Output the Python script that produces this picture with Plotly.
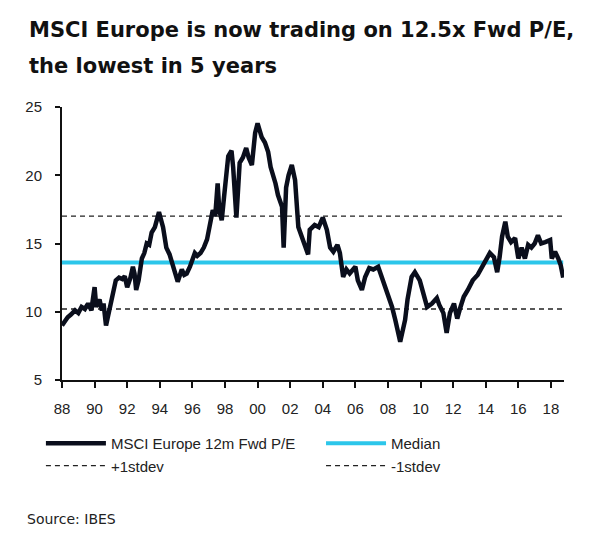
import plotly.graph_objects as go

# ---- data ----
years = [1988.00, 1988.15, 1988.35, 1988.55, 1988.8, 1989.0, 1989.2, 1989.4, 1989.6, 1989.8,
         1990.0, 1990.1, 1990.3, 1990.45, 1990.55, 1990.7, 1990.85, 1991.1, 1991.3, 1991.5,
         1991.7, 1991.85, 1992.0, 1992.2, 1992.35, 1992.45, 1992.55, 1992.7, 1992.9, 1993.05,
         1993.2, 1993.35, 1993.5, 1993.7, 1993.95, 1994.2, 1994.4, 1994.6, 1994.9, 1995.1,
         1995.35, 1995.5, 1995.65, 1995.85, 1996.15, 1996.3, 1996.5, 1996.7, 1996.9, 1997.1,
         1997.25, 1997.4, 1997.55, 1997.65, 1997.8, 1997.95, 1998.05, 1998.2, 1998.4, 1998.5,
         1998.7, 1998.9, 1999.1, 1999.3, 1999.45, 1999.65, 1999.85, 2000.0, 2000.25, 2000.45,
         2000.65, 2000.8, 2001.1, 2001.25, 2001.5, 2001.6, 2001.75, 2001.9, 2002.1, 2002.3,
         2002.5, 2002.7, 2002.85, 2003.1, 2003.2, 2003.5, 2003.75, 2004.0, 2004.25, 2004.45,
         2004.65, 2004.9, 2005.05, 2005.25, 2005.45, 2005.65, 2006.0, 2006.15, 2006.4, 2006.6,
         2006.85, 2007.1, 2007.4, 2007.7, 2007.95, 2008.25, 2008.45, 2008.75, 2009.05, 2009.2,
         2009.45, 2009.65, 2009.95, 2010.15, 2010.4, 2010.7, 2011.0, 2011.15, 2011.4, 2011.6,
         2011.8, 2012.05, 2012.25, 2012.45, 2012.65, 2012.9, 2013.2, 2013.5, 2013.85, 2014.05,
         2014.25, 2014.5, 2014.7, 2014.85, 2015.0, 2015.2, 2015.35, 2015.55, 2015.8, 2016.0,
         2016.2, 2016.4, 2016.6, 2016.8, 2017.0, 2017.2, 2017.4, 2017.65, 2017.95, 2018.05,
         2018.25, 2018.45, 2018.6, 2018.75]
pe = [9.0, 9.3, 9.6, 9.8, 10.1, 9.9, 10.35, 10.2, 10.6, 10.1,
      11.8, 10.35, 10.9, 10.1, 10.6, 9.0, 9.9, 11.4, 12.3, 12.5,
      12.4, 12.6, 11.8, 12.5, 13.3, 12.8, 11.6, 12.3, 13.9, 14.3,
      15.0, 14.9, 15.8, 16.2, 17.3, 16.2, 14.7, 14.2, 13.1, 12.2,
      13.1, 12.7, 12.8, 13.3, 14.3, 14.1, 14.3, 14.7, 15.3, 16.5,
      17.45, 17.0, 19.4, 17.45, 16.7, 18.5, 20.0, 21.4, 21.8, 20.6,
      16.9, 20.9, 21.3, 22.0, 21.3, 20.75, 23.1, 23.8, 22.8, 22.4,
      21.7, 20.6, 19.4, 18.55, 17.7, 14.7, 19.1, 20.0, 20.75, 19.65,
      16.2, 15.5, 15.0, 14.2, 16.0, 16.35, 16.2, 16.9, 16.0, 14.7,
      14.4, 14.9, 14.3, 12.55, 13.1, 12.8, 13.3, 12.3, 11.6, 12.55,
      13.2, 13.1, 13.3, 12.3, 11.4, 10.35, 9.4, 7.8, 9.4, 10.9,
      12.55, 12.9, 12.3, 11.4, 10.35, 10.6, 11.0, 10.5, 9.9, 8.45,
      9.9, 10.6, 9.5, 10.35, 11.1, 11.6, 12.3, 12.7, 13.4, 13.9,
      14.3, 14.0, 12.9, 14.0, 15.5, 16.6, 15.5, 15.1, 15.4, 13.9,
      14.7, 13.9, 14.9, 14.7, 15.0, 15.6, 15.0, 15.1, 15.25, 13.9,
      14.4, 13.9, 13.4, 12.5]
median_pe = 13.6
plus_1sd = 17.0
minus_1sd = 10.2

tick_years = list(range(1988, 2019, 2))
tick_labels = ["88", "90", "92", "94", "96", "98", "00", "02", "04", "06",
               "08", "10", "12", "14", "16", "18"]
y_ticks = [5, 10, 15, 20, 25]

title_line1 = "MSCI Europe is now trading on 12.5x Fwd P/E,"
title_line2 = "the lowest in 5 years"
source_text = "Source: IBES"

# ---- figure ----
x_span = [years[0], years[-1]]
dash_style = dict(color="#222222", width=1.3, dash="5px,4px")

fig = go.Figure()
fig.add_trace(go.Scatter(x=x_span, y=[plus_1sd, plus_1sd], mode="lines",
                         name="+1stdev", line=dash_style, legend="legend", legendrank=2))
fig.add_trace(go.Scatter(x=x_span, y=[minus_1sd, minus_1sd], mode="lines",
                         name="-1stdev", line=dash_style, legend="legend2", legendrank=2))
fig.add_trace(go.Scatter(x=x_span, y=[median_pe, median_pe], mode="lines",
                         name="Median", line=dict(color="#2cc6ea", width=4),
                         legend="legend2", legendrank=1))
fig.add_trace(go.Scatter(x=years, y=pe, mode="lines", name="MSCI Europe 12m Fwd P/E",
                         line=dict(color="#0a0e1c", width=4.5), legend="legend", legendrank=1))

axis_font = dict(family="Liberation Sans, Arial", size=15, color="#222222")
legend_common = dict(
    orientation="v", yanchor="top", xanchor="left", y=-0.172,
    itemwidth=60, traceorder="normal", bgcolor="rgba(0,0,0,0)",
    font=dict(family="Liberation Sans, Arial", size=15, color="#222222"),
)

fig.update_layout(
    width=582, height=537,
    margin=dict(l=54, r=26, t=99, b=165, autoexpand=False),
    paper_bgcolor="white", plot_bgcolor="white",
    showlegend=True,
    legend=dict(x=-0.042, **legend_common),
    legend2=dict(x=0.516, **legend_common),
    xaxis=dict(
        range=[1988, 2018.8], tickmode="array", tickvals=tick_years, ticktext=tick_labels,
        showgrid=False, zeroline=False, showline=True, linecolor="#111111", linewidth=2,
        ticks="outside", ticklen=6, tickwidth=2, tickcolor="#111111",
        ticklabelstandoff=8, tickfont=axis_font,
    ),
    yaxis=dict(
        range=[5, 25], tickmode="array", tickvals=y_ticks,
        showgrid=False, zeroline=False, showline=True, linecolor="#111111", linewidth=2,
        ticks="outside", ticklen=5, tickwidth=2, tickcolor="#111111",
        ticklabelstandoff=10, tickfont=axis_font,
    ),
    annotations=[
        dict(text="<b>" + title_line1 + "</b>", xref="paper", yref="paper", x=-0.0697, y=1.282,
             xanchor="left", yanchor="middle", showarrow=False,
             font=dict(family="DejaVu Sans", size=21, color="#111111")),
        dict(text="<b>" + title_line2 + "</b>", xref="paper", yref="paper", x=-0.0697, y=1.150,
             xanchor="left", yanchor="middle", showarrow=False,
             font=dict(family="DejaVu Sans", size=21, color="#111111")),
        dict(text=source_text, xref="paper", yref="paper", x=-0.0737, y=-0.509,
             xanchor="left", yanchor="middle", showarrow=False,
             font=dict(family="DejaVu Sans", size=14, color="#222222")),
    ],
)

fig.write_html("out.html")
